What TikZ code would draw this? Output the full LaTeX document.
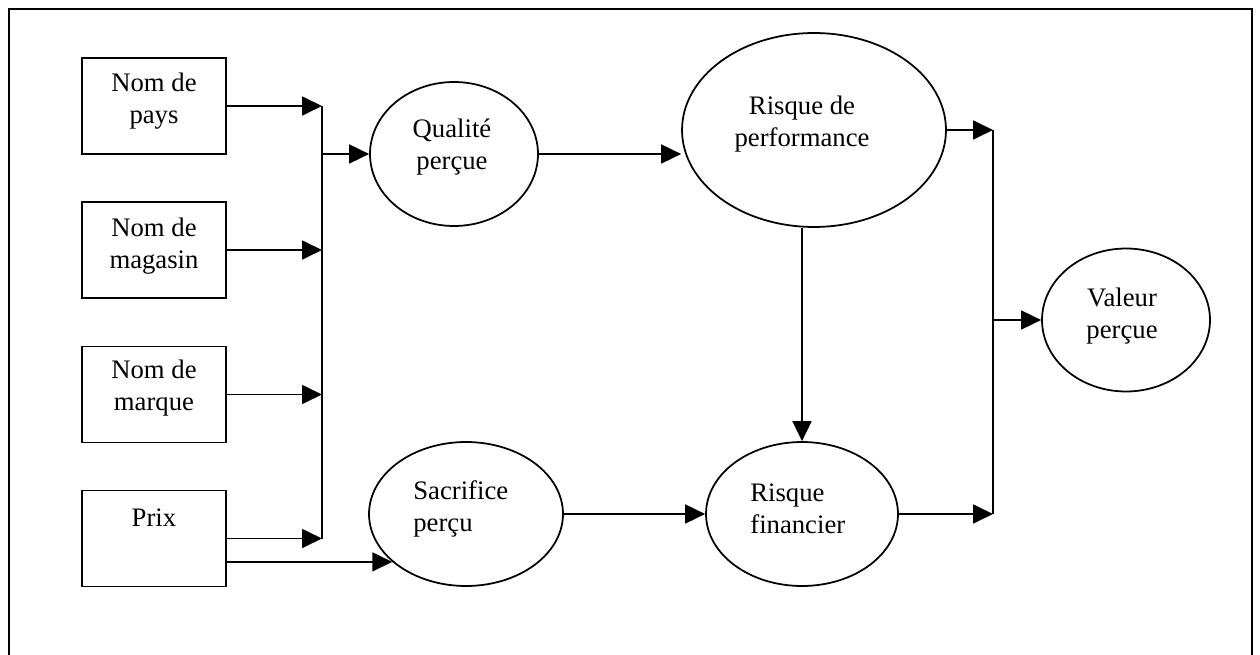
\documentclass[tikz,border=0pt]{standalone}
\usepackage{fontspec}
\setmainfont{Liberation Serif}
\usetikzlibrary{shapes.geometric,arrows.meta}

\begin{document}
\begin{tikzpicture}[x=0.02cm,y=-0.02cm,
  box/.style={draw,line width=1pt,minimum width=2.88cm,minimum height=1.92cm,inner sep=0pt},
  oval/.style={draw,ellipse,line width=1pt,inner sep=0pt},
  txt/.style={align=center,font=\fontsize{15.2}{18.2}\selectfont,inner sep=0pt},
  arr/.style={line width=1pt,-{Triangle[length=0.4cm,width=0.38cm]}}]
\useasboundingbox (0,0) rectangle (1260,655);

% Frame
\draw[line width=1.5pt] (9,655) -- (9,9) -- (1252,9) -- (1252,655);

% Inputs
\node[box] (pays) at (154,106) {};
\node[txt] (paystxt) at (154,101.5) {Nom de\\pays};
\node[box] (mag) at (154,250) {};
\node[txt] (magtxt) at (154,246) {Nom de\\magasin};
\node[box] (marq) at (154,394.5) {};
\node[txt] (marqtxt) at (154,388.5) {Nom de\\marque};
\node[box] (prix) at (154,538.5) {};
\node[txt] (prixtxt) at (154,518) {Prix};

% Perceptions
\node[oval,minimum width=3.36cm,minimum height=2.88cm] (qual) at (454,154) {};
\node[txt] (qualtxt) at (452,147.5) {Qualité\\perçue};
\node[oval,minimum width=3.88cm,minimum height=2.88cm] (sac) at (466,514) {};
\node[txt,align=left,anchor=west] (sactxt) at (413,509) {Sacrifice\\perçu};

% Risks
\node[oval,minimum width=5.28cm,minimum height=3.88cm] (perf) at (814,130) {};
\node[txt] (perftxt) at (802,124) {Risque de\\performance};
\node[oval,minimum width=3.84cm,minimum height=2.88cm] (fin) at (802,514) {};
\node[txt,align=left,anchor=west] (fintxt) at (750,508.5) {Risque\\financier};

% Value
\node[oval,minimum width=3.36cm,minimum height=2.86cm] (val) at (1126,320) {};
\node[txt] (valtxt) at (1122,316) {Valeur\\perçue};

% Left bus
\coordinate (busL) at (322,106);
\coordinate (busLb) at (322,538.5);
\draw[line width=1pt] (busL) -- (busLb);
\draw[arr] (pays.east) -- (pays.east -| busL);
\draw[arr] (mag.east) -- (mag.east -| busL);
\draw[arr] (marq.east) -- (marq.east -| busL);
\draw[arr] (prix.east) -- (prix.east -| busL);
\draw[arr] (busL |- qual.west) -- (qual.west);
\draw[arr] (prix.east |- sac.213) -- (sac.213);

% Middle
\draw[arr] (qual.east) -- (qual.east -| perf.west);
\draw[arr] (sac.east) -- (fin.west);
\draw[arr] (fin.north |- perf.south) -- (fin.north);

% Right bus
\coordinate (busR) at (993,130);
\coordinate (busRb) at (993,514);
\draw[line width=1pt] (busR) -- (busRb);
\draw[arr] (perf.east) -- (perf.east -| busR);
\draw[arr] (fin.east) -- (fin.east -| busR);
\draw[arr] (busR |- val.west) -- (val.west);

\end{tikzpicture}
\end{document}
